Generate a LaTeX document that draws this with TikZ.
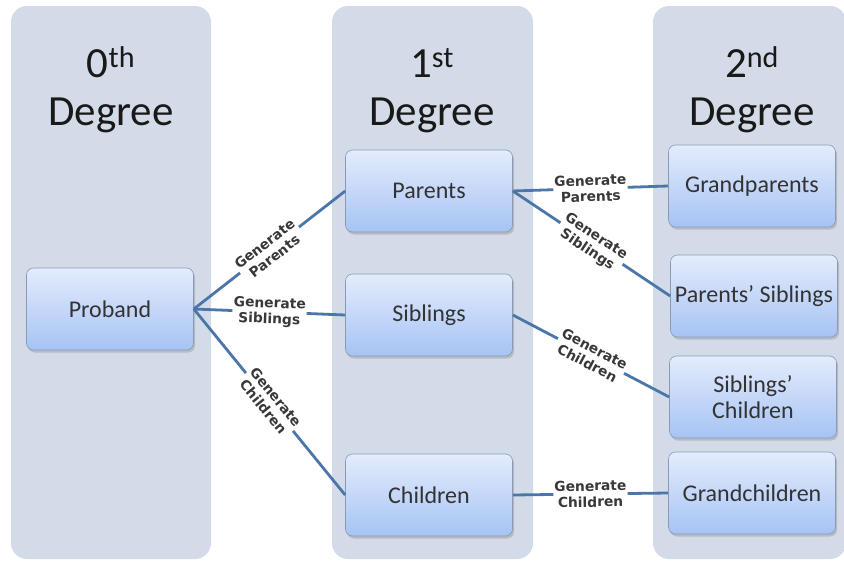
\documentclass[tikz,border=0pt]{standalone}
\usepackage{fontspec}
\setmainfont{Carlito}
\newfontfamily\lblfont{DejaVu Sans}
\usetikzlibrary{shadows}
\definecolor{colbg}{HTML}{D4DBE8}
\definecolor{boxtop}{HTML}{E4ECFC}
\definecolor{boxbot}{HTML}{A6C3F4}
\definecolor{boxedge}{HTML}{8A9AB6}
\definecolor{connblue}{HTML}{4A76AA}
\tikzset{
  column/.style={fill=colbg, rounded corners=16pt},
  heading/.style={font=\fontsize{43}{50}\selectfont, text=black!90, anchor=base},
  person/.style={draw=boxedge, line width=0.6pt, rounded corners=7pt,
    minimum width=167pt, minimum height=82pt, top color=boxtop, bottom color=boxbot,
    font=\fontsize{24}{26}\selectfont, text=black!80, align=center,
    drop shadow={shadow xshift=1.5pt, shadow yshift=-2.5pt, opacity=0.35}},
  conn/.style={draw=connblue, line width=2.8pt},
  lbl/.style={fill=white, inner sep=1.2pt, align=center, sloped,
    font=\lblfont\bfseries\fontsize{13.8}{16}\selectfont, text=black!78}
}
\begin{document}
\begin{tikzpicture}[x=1pt, y=-1pt]
\useasboundingbox (0,0) rectangle (844,562);
\fill[white] (0,0) rectangle (844,562);

% degree columns
\path[column] (11,6) rectangle (211,559);
\path[column] (332,6) rectangle (533,559);
\path[column] (653,6) rectangle (846,559);

% column headings
\node[heading] (h0a) at (111,77) {0\textsuperscript{th}};
\node[heading] (h0b) at (111,125) {Degree};
\node[heading] (h1a) at (432,77) {1\textsuperscript{st}};
\node[heading] (h1b) at (432,125) {Degree};
\node[heading] (h2a) at (752,77) {2\textsuperscript{nd}};
\node[heading] (h2b) at (752,125) {Degree};

% relatives
\node[person] (proband) at (110,309) {Proband};
\node[person] (parents) at (429,191) {Parents};
\node[person] (siblings) at (429,315) {Siblings};
\node[person] (children) at (429,495) {Children};
\node[person] (grandparents) at (752,186) {Grandparents};
\node[person] (psiblings) at (754,296) {Parents’ Siblings};
\node[person] (schildren) at (753,397) {Siblings’\\Children};
\node[person] (grandchildren) at (752,493) {Grandchildren};

% generation steps
\draw[conn] (proband.east) -- node[lbl] {Generate\\Parents} (parents.west);
\draw[conn] (proband.east) -- node[lbl] {Generate\\Siblings} (siblings.west);
\draw[conn] (proband.east) -- node[lbl] {Generate\\Children} (children.west);
\draw[conn] (parents.east) -- node[lbl] {Generate\\Parents} (grandparents.west);
\draw[conn] (parents.east) -- node[lbl] {Generate\\Siblings} (psiblings.west);
\draw[conn] (siblings.east) -- node[lbl] {Generate\\Children} (schildren.west);
\draw[conn] (children.east) -- node[lbl] {Generate\\Children} (grandchildren.west);
\end{tikzpicture}
\end{document}
